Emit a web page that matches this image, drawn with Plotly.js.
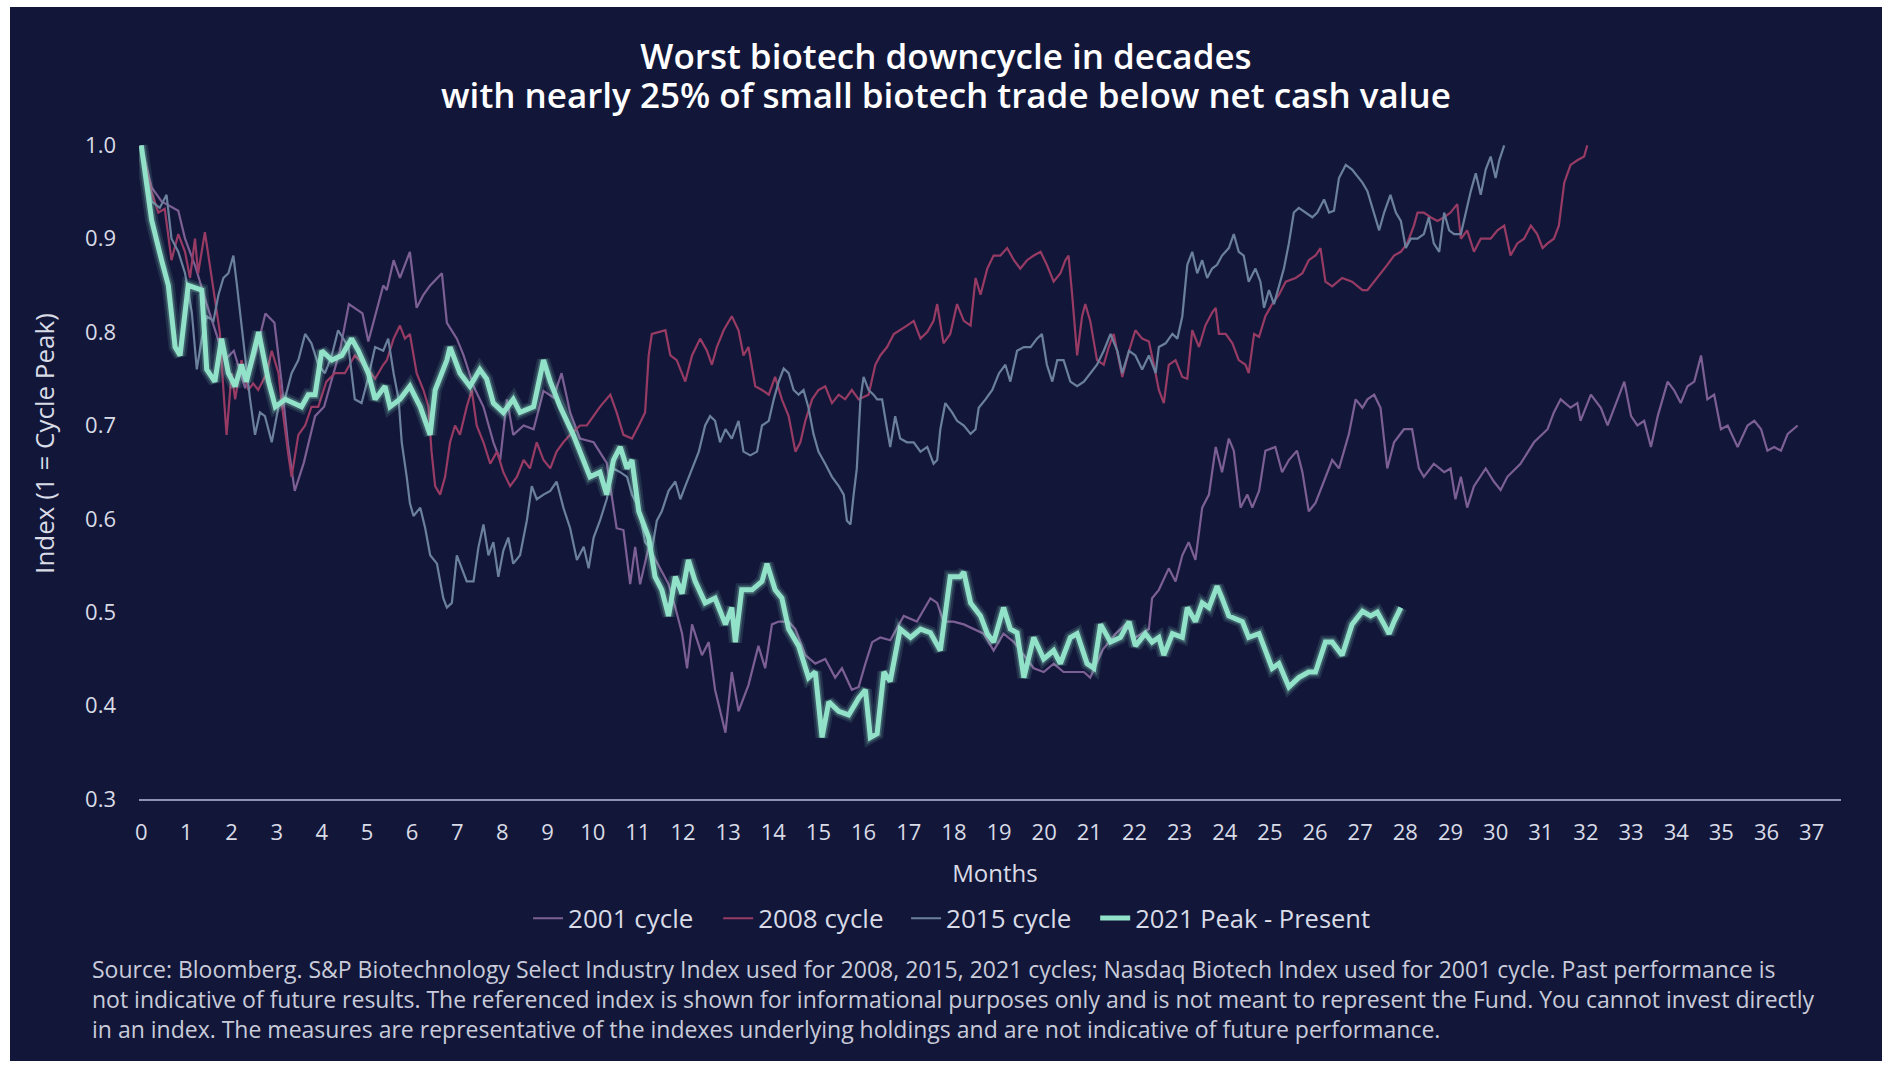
<!DOCTYPE html>
<html>
<head>
<meta charset="utf-8">
<script src="https://cdn.plot.ly/plotly-3.0.1.min.js"></script>
<style>
html,body{margin:0;padding:0;background:#ffffff;width:1894px;height:1068px;overflow:hidden;}
#chart{position:absolute;left:10px;top:7px;width:1872px;height:1054px;}
</style>
</head>
<body>
<div id="chart"></div>
<script>
// ---- Data (months since cycle peak, index value with 1 = cycle peak) ----
const months2001 = [0,0.23,0.45,0.82,0.97,1.2,1.45,1.65,1.85,2.05,2.3,2.55,2.75,2.95,3.1,3.25,3.4,3.6,3.85,4.05,4.2,4.4,4.6,4.9,5.03,5.18,5.36,5.44,5.59,5.73,5.95,6.1,6.25,6.4,6.66,6.77,6.99,7.14,7.36,7.58,7.8,7.95,8.1,8.24,8.47,8.69,8.91,9.13,9.31,9.5,9.72,10.02,10.31,10.53,10.68,10.83,10.94,11.05,11.24,11.46,11.68,11.83,11.98,12.09,12.2,12.42,12.57,12.71,12.94,13.08,13.23,13.45,13.67,13.82,13.97,14.12,14.34,14.49,14.71,14.93,15.15,15.37,15.52,15.74,15.89,16.04,16.19,16.37,16.59,16.89,17.18,17.48,17.63,17.77,17.99,18.22,18.44,18.66,18.88,19.1,19.33,19.55,19.77,19.99,20.21,20.43,20.66,20.88,21.02,21.3,21.58,21.8,22.02,22.32,22.39,22.54,22.76,22.91,23.06,23.2,23.35,23.5,23.65,23.8,23.94,24.09,24.2,24.35,24.5,24.61,24.76,24.9,25.12,25.27,25.42,25.6,25.72,25.86,26.01,26.16,26.38,26.53,26.75,26.9,27.05,27.16,27.31,27.45,27.6,27.75,27.97,28.15,28.3,28.41,28.63,28.86,29.0,29.11,29.23,29.37,29.52,29.78,29.96,30.11,30.26,30.55,30.85,31.15,31.29,31.44,31.66,31.81,31.88,32.11,32.33,32.48,32.7,32.85,33.0,33.14,33.29,33.44,33.59,33.81,33.95,34.1,34.25,34.4,34.55,34.69,34.84,34.99,35.14,35.36,35.58,35.73,35.88,36.02,36.17,36.32,36.47,36.69];
const index2001 = [1.0,0.955,0.94,0.93,0.9,0.87,0.83,0.8,0.77,0.78,0.74,0.78,0.82,0.81,0.75,0.68,0.63,0.66,0.71,0.72,0.747,0.78,0.83,0.82,0.79,0.816,0.85,0.845,0.877,0.858,0.886,0.826,0.84,0.85,0.863,0.81,0.793,0.775,0.742,0.72,0.682,0.663,0.728,0.69,0.70,0.696,0.737,0.73,0.756,0.714,0.686,0.682,0.66,0.59,0.588,0.53,0.57,0.53,0.57,0.55,0.53,0.505,0.477,0.44,0.487,0.454,0.468,0.417,0.371,0.436,0.394,0.422,0.464,0.44,0.487,0.49,0.49,0.482,0.454,0.445,0.45,0.43,0.44,0.417,0.42,0.445,0.468,0.473,0.47,0.496,0.49,0.515,0.51,0.49,0.49,0.487,0.482,0.477,0.459,0.477,0.468,0.454,0.44,0.436,0.445,0.436,0.436,0.436,0.43,0.46,0.477,0.487,0.473,0.482,0.515,0.524,0.547,0.533,0.561,0.575,0.556,0.612,0.626,0.677,0.65,0.686,0.673,0.612,0.626,0.612,0.63,0.673,0.677,0.65,0.663,0.673,0.65,0.608,0.617,0.635,0.663,0.654,0.691,0.728,0.719,0.728,0.733,0.719,0.654,0.682,0.696,0.696,0.654,0.645,0.659,0.65,0.654,0.621,0.645,0.612,0.635,0.654,0.64,0.631,0.645,0.659,0.682,0.696,0.714,0.728,0.719,0.724,0.705,0.733,0.719,0.70,0.728,0.747,0.71,0.70,0.705,0.677,0.71,0.747,0.738,0.724,0.742,0.747,0.775,0.728,0.733,0.696,0.70,0.677,0.70,0.705,0.696,0.673,0.677,0.673,0.691,0.70];

const months2008 = [0,0.23,0.38,0.52,0.67,0.82,0.97,1.08,1.19,1.26,1.41,1.52,1.63,1.74,1.82,1.89,2.0,2.08,2.22,2.37,2.48,2.59,2.78,2.89,3.04,3.11,3.26,3.33,3.48,3.63,3.77,3.92,4.1,4.29,4.51,4.73,5.03,5.18,5.36,5.44,5.59,5.73,5.84,5.95,6.1,6.25,6.36,6.43,6.51,6.62,6.73,6.84,6.95,7.06,7.21,7.32,7.43,7.58,7.73,7.88,8.02,8.17,8.32,8.47,8.61,8.76,8.91,9.06,9.2,9.35,9.5,9.72,9.87,10.02,10.16,10.39,10.53,10.68,10.87,11.02,11.16,11.24,11.31,11.46,11.61,11.72,11.86,12.05,12.2,12.38,12.53,12.64,12.75,12.9,13.08,13.23,13.34,13.45,13.6,13.75,13.9,14.04,14.19,14.34,14.49,14.6,14.71,14.86,15.0,15.15,15.3,15.45,15.59,15.74,15.89,16.11,16.26,16.37,16.52,16.67,16.81,16.96,17.11,17.26,17.41,17.55,17.63,17.77,17.92,18.07,18.22,18.37,18.48,18.59,18.74,18.88,19.03,19.18,19.33,19.47,19.62,19.77,19.92,20.06,20.21,20.36,20.47,20.54,20.62,20.69,20.73,20.84,20.91,21.02,21.17,21.32,21.43,21.54,21.65,21.73,21.88,22.02,22.17,22.32,22.43,22.54,22.65,22.76,22.91,23.06,23.17,23.28,23.43,23.57,23.72,23.8,23.87,24.02,24.17,24.31,24.46,24.53,24.65,24.76,24.9,25.05,25.2,25.35,25.57,25.72,25.86,26.01,26.12,26.23,26.38,26.6,26.82,27.05,27.16,27.31,27.45,27.6,27.75,27.9,28.04,28.19,28.27,28.41,28.56,28.71,28.86,29.0,29.15,29.23,29.37,29.52,29.67,29.89,30.04,30.19,30.33,30.48,30.63,30.78,30.92,31.04,31.15,31.29,31.4,31.52,31.66,31.81,31.96,32.03];
const index2008 = [1.0,0.95,0.928,0.932,0.877,0.905,0.886,0.858,0.9,0.863,0.907,0.872,0.835,0.8,0.738,0.69,0.756,0.728,0.77,0.738,0.745,0.738,0.756,0.78,0.756,0.724,0.668,0.645,0.69,0.70,0.72,0.72,0.747,0.756,0.756,0.775,0.76,0.75,0.765,0.77,0.793,0.807,0.793,0.798,0.756,0.738,0.72,0.672,0.635,0.626,0.645,0.682,0.70,0.69,0.72,0.738,0.70,0.682,0.659,0.672,0.65,0.635,0.645,0.663,0.654,0.682,0.663,0.654,0.672,0.682,0.69,0.70,0.70,0.71,0.72,0.733,0.714,0.69,0.686,0.70,0.714,0.775,0.798,0.80,0.802,0.775,0.77,0.747,0.775,0.793,0.78,0.765,0.784,0.802,0.817,0.802,0.775,0.784,0.742,0.738,0.733,0.752,0.728,0.71,0.672,0.682,0.705,0.728,0.738,0.742,0.724,0.733,0.728,0.738,0.728,0.733,0.765,0.775,0.784,0.798,0.802,0.807,0.812,0.793,0.80,0.812,0.83,0.788,0.798,0.83,0.812,0.807,0.858,0.84,0.868,0.882,0.882,0.89,0.877,0.868,0.877,0.882,0.886,0.872,0.854,0.863,0.877,0.882,0.84,0.793,0.775,0.817,0.83,0.812,0.77,0.765,0.784,0.798,0.77,0.752,0.78,0.802,0.793,0.79,0.765,0.738,0.724,0.765,0.77,0.752,0.75,0.802,0.784,0.807,0.821,0.826,0.798,0.798,0.788,0.77,0.765,0.756,0.798,0.795,0.817,0.83,0.84,0.854,0.858,0.863,0.877,0.882,0.89,0.854,0.849,0.858,0.854,0.845,0.845,0.854,0.863,0.872,0.882,0.886,0.895,0.914,0.928,0.928,0.923,0.919,0.923,0.928,0.937,0.9,0.909,0.886,0.9,0.9,0.909,0.914,0.882,0.895,0.9,0.914,0.905,0.89,0.895,0.9,0.914,0.96,0.979,0.984,0.988,1.0];

const months2015 = [0,0.23,0.41,0.56,0.67,0.82,0.97,1.12,1.23,1.34,1.45,1.6,1.71,1.82,1.93,2.04,2.11,2.22,2.3,2.41,2.52,2.63,2.74,2.89,3.04,3.18,3.33,3.48,3.63,3.77,3.92,4.07,4.22,4.36,4.59,4.73,4.88,5.03,5.18,5.36,5.47,5.59,5.7,5.77,5.88,5.95,6.03,6.18,6.29,6.4,6.55,6.69,6.77,6.88,6.99,7.1,7.21,7.36,7.47,7.58,7.69,7.8,7.91,8.02,8.13,8.24,8.39,8.54,8.65,8.76,8.91,9.06,9.2,9.35,9.5,9.65,9.8,9.91,10.02,10.16,10.31,10.46,10.61,10.76,10.87,11.02,11.16,11.31,11.42,11.53,11.68,11.83,11.94,12.05,12.2,12.35,12.49,12.6,12.71,12.82,12.94,13.08,13.23,13.34,13.49,13.64,13.75,13.9,14.01,14.12,14.23,14.34,14.45,14.56,14.67,14.78,14.89,15.0,15.15,15.3,15.45,15.56,15.63,15.71,15.78,15.85,15.93,16.0,16.11,16.22,16.3,16.41,16.52,16.59,16.7,16.81,16.96,17.11,17.26,17.41,17.55,17.63,17.7,17.81,17.96,18.07,18.22,18.37,18.48,18.55,18.7,18.85,19.0,19.14,19.25,19.4,19.55,19.7,19.84,19.95,20.06,20.18,20.29,20.43,20.58,20.73,20.88,21.02,21.17,21.32,21.47,21.62,21.73,21.88,22.02,22.17,22.32,22.47,22.54,22.69,22.84,22.95,23.06,23.17,23.28,23.39,23.5,23.61,23.72,23.83,23.94,24.09,24.2,24.31,24.42,24.53,24.68,24.79,24.87,24.98,25.09,25.2,25.31,25.42,25.53,25.64,25.79,25.94,26.05,26.2,26.31,26.42,26.53,26.68,26.82,27.05,27.16,27.31,27.42,27.53,27.67,27.79,27.9,28.01,28.12,28.27,28.41,28.52,28.63,28.75,28.86,28.97,29.08,29.23,29.34,29.45,29.56,29.67,29.78,29.89,30.0,30.08,30.19];
const index2015 = [1.0,0.94,0.933,0.947,0.9,0.886,0.863,0.821,0.76,0.793,0.817,0.812,0.84,0.858,0.863,0.882,0.854,0.807,0.775,0.728,0.69,0.714,0.71,0.682,0.72,0.728,0.756,0.77,0.798,0.788,0.765,0.756,0.775,0.802,0.784,0.728,0.724,0.752,0.784,0.78,0.793,0.756,0.728,0.682,0.645,0.617,0.603,0.612,0.59,0.561,0.552,0.515,0.505,0.51,0.561,0.547,0.533,0.533,0.57,0.594,0.561,0.575,0.538,0.566,0.58,0.552,0.561,0.598,0.635,0.621,0.626,0.63,0.64,0.612,0.59,0.556,0.57,0.547,0.58,0.598,0.621,0.654,0.65,0.645,0.626,0.612,0.575,0.566,0.598,0.608,0.63,0.64,0.621,0.635,0.654,0.672,0.70,0.71,0.705,0.682,0.696,0.686,0.705,0.672,0.668,0.672,0.70,0.705,0.728,0.747,0.761,0.756,0.738,0.733,0.738,0.719,0.691,0.672,0.659,0.645,0.635,0.626,0.598,0.594,0.626,0.654,0.728,0.752,0.738,0.733,0.728,0.728,0.696,0.677,0.71,0.686,0.682,0.682,0.672,0.677,0.659,0.663,0.696,0.724,0.714,0.705,0.70,0.691,0.696,0.719,0.728,0.738,0.756,0.765,0.747,0.78,0.784,0.784,0.793,0.798,0.765,0.747,0.77,0.77,0.747,0.742,0.747,0.756,0.765,0.78,0.798,0.78,0.756,0.78,0.775,0.76,0.775,0.756,0.784,0.788,0.798,0.793,0.817,0.872,0.886,0.863,0.877,0.858,0.868,0.872,0.882,0.89,0.905,0.886,0.882,0.854,0.868,0.854,0.826,0.845,0.83,0.849,0.868,0.895,0.928,0.933,0.928,0.923,0.928,0.942,0.928,0.93,0.965,0.979,0.974,0.96,0.951,0.928,0.909,0.928,0.947,0.928,0.919,0.89,0.9,0.9,0.905,0.923,0.895,0.886,0.928,0.909,0.905,0.905,0.928,0.951,0.97,0.947,0.974,0.988,0.965,0.984,1.0];

const months2021 = [0,0.23,0.45,0.6,0.75,0.86,1.04,1.34,1.45,1.63,1.78,1.93,2.08,2.22,2.33,2.6,2.82,2.97,3.19,3.55,3.7,3.85,4.0,4.22,4.44,4.66,4.81,5.03,5.18,5.4,5.51,5.73,5.95,6.18,6.4,6.51,6.77,6.84,7.06,7.28,7.5,7.65,7.8,8.02,8.24,8.39,8.69,8.91,9.06,9.28,9.57,9.8,9.94,10.16,10.31,10.46,10.61,10.76,10.87,11.02,11.24,11.38,11.53,11.68,11.83,11.98,12.12,12.27,12.49,12.71,12.94,13.08,13.16,13.3,13.53,13.75,13.86,14.04,14.19,14.34,14.56,14.78,14.93,15.08,15.23,15.45,15.67,15.89,16.04,16.15,16.3,16.45,16.59,16.81,17.04,17.26,17.48,17.7,17.92,18.14,18.22,18.37,18.59,18.74,18.88,19.1,19.25,19.4,19.55,19.77,19.99,20.21,20.36,20.58,20.73,20.95,21.1,21.25,21.47,21.69,21.88,22.02,22.24,22.39,22.54,22.65,22.84,23.06,23.17,23.35,23.5,23.65,23.83,23.94,24.09,24.39,24.53,24.76,24.9,25.05,25.2,25.42,25.64,25.86,26.01,26.23,26.38,26.6,26.82,27.05,27.23,27.38,27.53,27.64,27.75,27.9];
const index2021 = [1.0,0.92,0.877,0.85,0.784,0.775,0.85,0.845,0.76,0.747,0.793,0.756,0.742,0.765,0.747,0.80,0.747,0.72,0.728,0.72,0.733,0.733,0.78,0.77,0.775,0.793,0.78,0.756,0.728,0.742,0.72,0.728,0.742,0.72,0.69,0.738,0.77,0.784,0.756,0.742,0.76,0.75,0.724,0.714,0.728,0.714,0.72,0.77,0.747,0.72,0.69,0.663,0.645,0.65,0.626,0.663,0.677,0.654,0.663,0.608,0.58,0.538,0.524,0.496,0.538,0.52,0.556,0.533,0.51,0.515,0.487,0.505,0.468,0.524,0.524,0.533,0.552,0.524,0.515,0.482,0.464,0.43,0.436,0.366,0.404,0.394,0.39,0.408,0.417,0.366,0.37,0.436,0.426,0.482,0.473,0.482,0.478,0.459,0.538,0.538,0.543,0.51,0.496,0.477,0.468,0.505,0.482,0.478,0.43,0.473,0.45,0.459,0.445,0.473,0.477,0.445,0.44,0.487,0.468,0.473,0.49,0.464,0.477,0.468,0.473,0.454,0.477,0.473,0.505,0.49,0.51,0.505,0.528,0.515,0.496,0.49,0.473,0.477,0.459,0.44,0.445,0.42,0.43,0.436,0.436,0.468,0.468,0.454,0.487,0.501,0.496,0.5,0.487,0.477,0.49,0.505];

const seriesNames = ['2001 cycle','2008 cycle','2015 cycle','2021 Peak - Present'];
const monthTicks = Array.from({length:38},(_,i)=>i);
const indexTicks = [0.3,0.4,0.5,0.6,0.7,0.8,0.9,1.0];

const titleText = 'Worst biotech downcycle in decades<br>with nearly 25% of small biotech trade below net cash value';
const yTitleText = 'Index (1 = Cycle Peak)';
const xTitleText = 'Months';
const sourceText = 'Source: Bloomberg. S&amp;P Biotechnology Select Industry Index used for 2008, 2015, 2021 cycles; Nasdaq Biotech Index used for 2001 cycle. Past performance is<br>' +
  'not indicative of future results. The referenced index is shown for informational purposes only and is not meant to represent the Fund. You cannot invest directly<br>' +
  'in an index. The measures are representative of the indexes underlying holdings and are not indicative of future performance.';

// ---- Styles ----
const BG = '#121739';
const FONT = '"Open Sans", Lato, sans-serif';
const TXT = '#d9dbe6';
const C2001 = '#7c5f94';
const C2008 = '#983b64';
const C2015 = '#6b809c';
const C2021 = '#92e2c9';

const traces = [
  {x: months2001, y: index2001, name: seriesNames[0], type: 'scatter', mode: 'lines', legend: 'legend',
   line: {color: C2001, width: 2.2}},
  {x: months2008, y: index2008, name: seriesNames[1], type: 'scatter', mode: 'lines', legend: 'legend2',
   line: {color: C2008, width: 2.2}},
  {x: months2015, y: index2015, name: seriesNames[2], type: 'scatter', mode: 'lines', legend: 'legend3',
   line: {color: C2015, width: 2.2}},
  {x: months2021, y: index2021, name: 'glow outer', type: 'scatter', mode: 'lines', showlegend: false,
   line: {color: 'rgba(146,226,201,0.13)', width: 13}},
  {x: months2021, y: index2021, name: 'glow inner', type: 'scatter', mode: 'lines', showlegend: false,
   line: {color: 'rgba(146,226,201,0.25)', width: 8.5}},
  {x: months2021, y: index2021, name: seriesNames[3], type: 'scatter', mode: 'lines', legend: 'legend4',
   line: {color: C2021, width: 5}}
];

const legendBase = {orientation: 'h', xanchor: 'left', y: -0.18, yanchor: 'middle',
                    font: {size: 26, color: TXT}, bgcolor: 'rgba(0,0,0,0)', itemwidth: 30};

const layout = {
  width: 1872, height: 1054,
  paper_bgcolor: BG, plot_bgcolor: BG,
  font: {family: FONT, color: TXT, size: 22},
  margin: {l: 129, r: 41, t: 129, b: 262},
  showlegend: true,
  title: {text: titleText, font: {family: FONT, size: 35, color: '#ffffff', weight: 600},
          x: 0.5, xanchor: 'center', xref: 'container', y: 0.9416, yanchor: 'top', yref: 'container'},
  xaxis: {
    range: [-0.05, 37.65], tickvals: monthTicks, ticktext: monthTicks.map(String),
    showgrid: false, zeroline: false, showline: true, linecolor: '#8e91b4', linewidth: 2,
    ticks: '', ticklabelstandoff: 13, tickfont: {size: 22, color: TXT},
    title: {text: xTitleText, font: {size: 24, color: TXT}, standoff: 20},
    fixedrange: true
  },
  yaxis: {
    range: [0.3, 1.01], tickvals: indexTicks, ticktext: indexTicks.map(v => v.toFixed(1)),
    showgrid: false, zeroline: false, showline: false,
    ticks: '', ticklabelstandoff: 22, tickfont: {size: 22, color: TXT},
    title: {text: yTitleText, font: {size: 26, color: TXT}, standoff: 22},
    fixedrange: true
  },
  legend:  Object.assign({}, legendBase, {x: 0.2286}),
  legend2: Object.assign({}, legendBase, {x: 0.3403}),
  legend3: Object.assign({}, legendBase, {x: 0.4507}),
  legend4: Object.assign({}, legendBase, {x: 0.5618, font: {size: 25.5, color: TXT}}),
  annotations: [{
    text: sourceText, xref: 'paper', yref: 'paper', x: -0.029, y: -0.229,
    xanchor: 'left', yanchor: 'top', align: 'left', showarrow: false,
    font: {size: 23, color: '#c9cbd9', family: FONT}
  }],
  hovermode: false
};

function shiftEl(el, dx, dy) {
  if (!el) return;
  const t = el.getAttribute('transform') || '';
  el.setAttribute('transform', 'translate(' + dx + ',' + dy + ') ' + t);
}

Plotly.newPlot('chart', traces, layout, {displayModeBar: false, staticPlot: true}).then(function (gd) {
  // tighten the leading of the two-line title to match the reference
  const lines = gd.querySelectorAll('.gtitle tspan.line');
  if (lines.length > 1) lines[1].setAttribute('dy', '1.12em');
  // the reference's axis titles sit slightly off-centre
  shiftEl(gd.querySelector('.ytitle'), 0, -24);
  shiftEl(gd.querySelector('.xtitle'), 5, 0);
});
</script>
</body>
</html>
